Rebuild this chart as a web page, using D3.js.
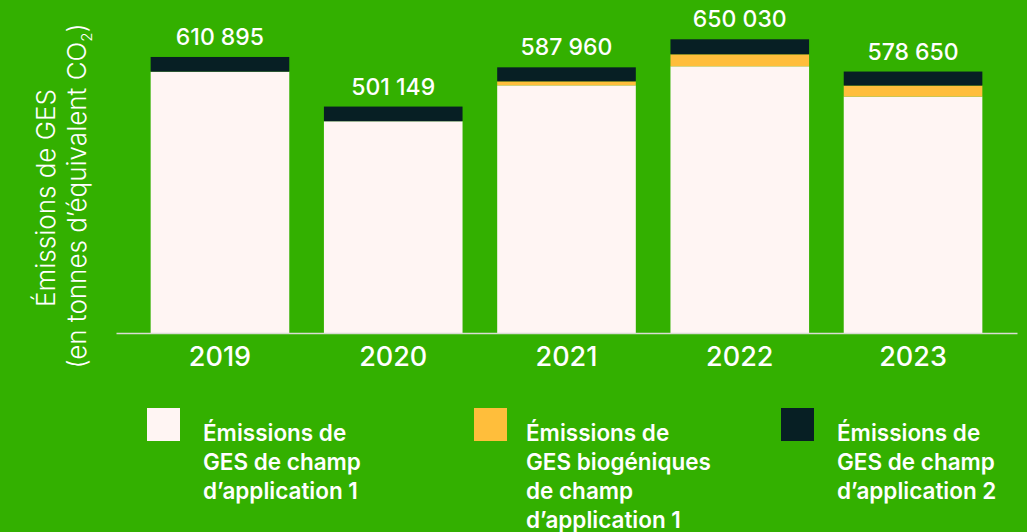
<!DOCTYPE html>
<html>
<head>
<meta charset="utf-8">
<script src="https://cdn.jsdelivr.net/npm/d3@7"></script>
<style>
    body { margin: 0; background: #33b000; }
    svg { display: block; font-family: Inter, "Noto Sans", sans-serif; }
</style>
</head>
<body>
<svg id="chart" width="1027" height="532"></svg>
<script>
// data
const years = ['2019', '2020', '2021', '2022', '2023'];
const scope1 = [578395, 468649, 548110, 590270, 523300];
const biogenic = [0, 0, 8850, 26560, 24350];
const scope2 = [32500, 32500, 31000, 33200, 31000];
const totals = [610895, 501149, 587960, 650030, 578650];
const seriesKeys = ['scope1', 'biogenic', 'scope2'];
const legendLabels = [
    ['Émissions de', 'GES de champ', 'd’application 1'],
    ['Émissions de', 'GES biogéniques', 'de champ', 'd’application 1'],
    ['Émissions de', 'GES de champ', 'd’application 2']
];

const colors = {scope1: '#fff5f3', biogenic: '#ffbe3b', scope2: '#071f24'};

let rows = years.map((y, i) => ({
    year: y,
    scope1: scope1[i],
    biogenic: biogenic[i],
    scope2: scope2[i],
    total: totals[i]
}));

let svg = d3.select('#chart');

let x = d3.scaleBand()
    .domain(years)
    .range([116, 1017])
    .paddingInner(0.2)
    .paddingOuter(0.2);

let y = d3.scaleLinear()
    .domain([0, 737000])
    .range([333, 0]);

let stack = d3.stack().keys(seriesKeys);
let layers = stack(rows);

svg.append('g')
    .selectAll('g')
    .data(layers)
    .join('g')
    .attr('fill', d => colors[d.key])
    .selectAll('rect')
    .data(d => d)
    .join('rect')
    .attr('x', d => x(d.data.year))
    .attr('width', x.bandwidth())
    .attr('y', d => y(d[1]))
    .attr('height', d => y(d[0]) - y(d[1]));

// baseline axis
let axis = svg.append('g')
    .attr('transform', 'translate(0,333)')
    .call(d3.axisBottom(x).tickSize(0).tickPadding(14));
axis.select('.domain').attr('stroke', '#d9dcd4').attr('stroke-width', 1.5);
axis.selectAll('text')
    .attr('fill', '#fff')
    .attr('font-size', 27)
    .attr('font-weight', 500)
    .attr('font-family', 'Inter, sans-serif');

// totals
let fmt = d3.formatLocale({decimal: ',', thousands: ' ', grouping: [3], currency: ['', '']}).format(',d');
svg.append('g')
    .selectAll('text')
    .data(rows)
    .join('text')
    .attr('x', d => x(d.year) + x.bandwidth() / 2)
    .attr('y', d => y(d.total) - 12)
    .attr('text-anchor', 'middle')
    .attr('fill', '#fff')
    .attr('font-size', 23)
    .attr('font-weight', 500)
    .text(d => fmt(d.total));

// y title
svg.append('text')
    .attr('transform', 'translate(55,198) rotate(-90)')
    .attr('text-anchor', 'middle')
    .attr('fill', '#fff')
    .attr('font-size', 26)
    .attr('font-weight', 300)
    .text('Émissions de GES');

let t2 = svg.append('text')
    .attr('transform', 'translate(86,196) rotate(-90)')
    .attr('text-anchor', 'middle')
    .attr('fill', '#fff')
    .attr('font-size', 26)
    .attr('font-weight', 300);
t2.append('tspan').text('(en tonnes d’équivalent CO');
t2.append('tspan').attr('font-size', 15).attr('dy', 6).text('2');
t2.append('tspan').attr('dy', -6).text(')');

// legend
let legendX = [147, 474, 781];
let legendTextX = [56, 52, 56];
let legend = svg.append('g')
    .selectAll('g')
    .data(seriesKeys)
    .join('g')
    .attr('transform', (d, i) => `translate(${legendX[i]},408)`);

legend.append('rect')
    .attr('width', 33)
    .attr('height', 33)
    .attr('fill', d => colors[d]);

legend.append('text')
    .attr('fill', '#fff')
    .attr('font-size', 22.5)
    .attr('font-weight', 600)
    .each(function (d, i) {
        d3.select(this)
            .selectAll('tspan')
            .data(legendLabels[i])
            .join('tspan')
            .attr('x', legendTextX[i])
            .attr('y', (t, j) => 33 + j * 29)
            .text(t => t);
    });
</script>
</body>
</html>
